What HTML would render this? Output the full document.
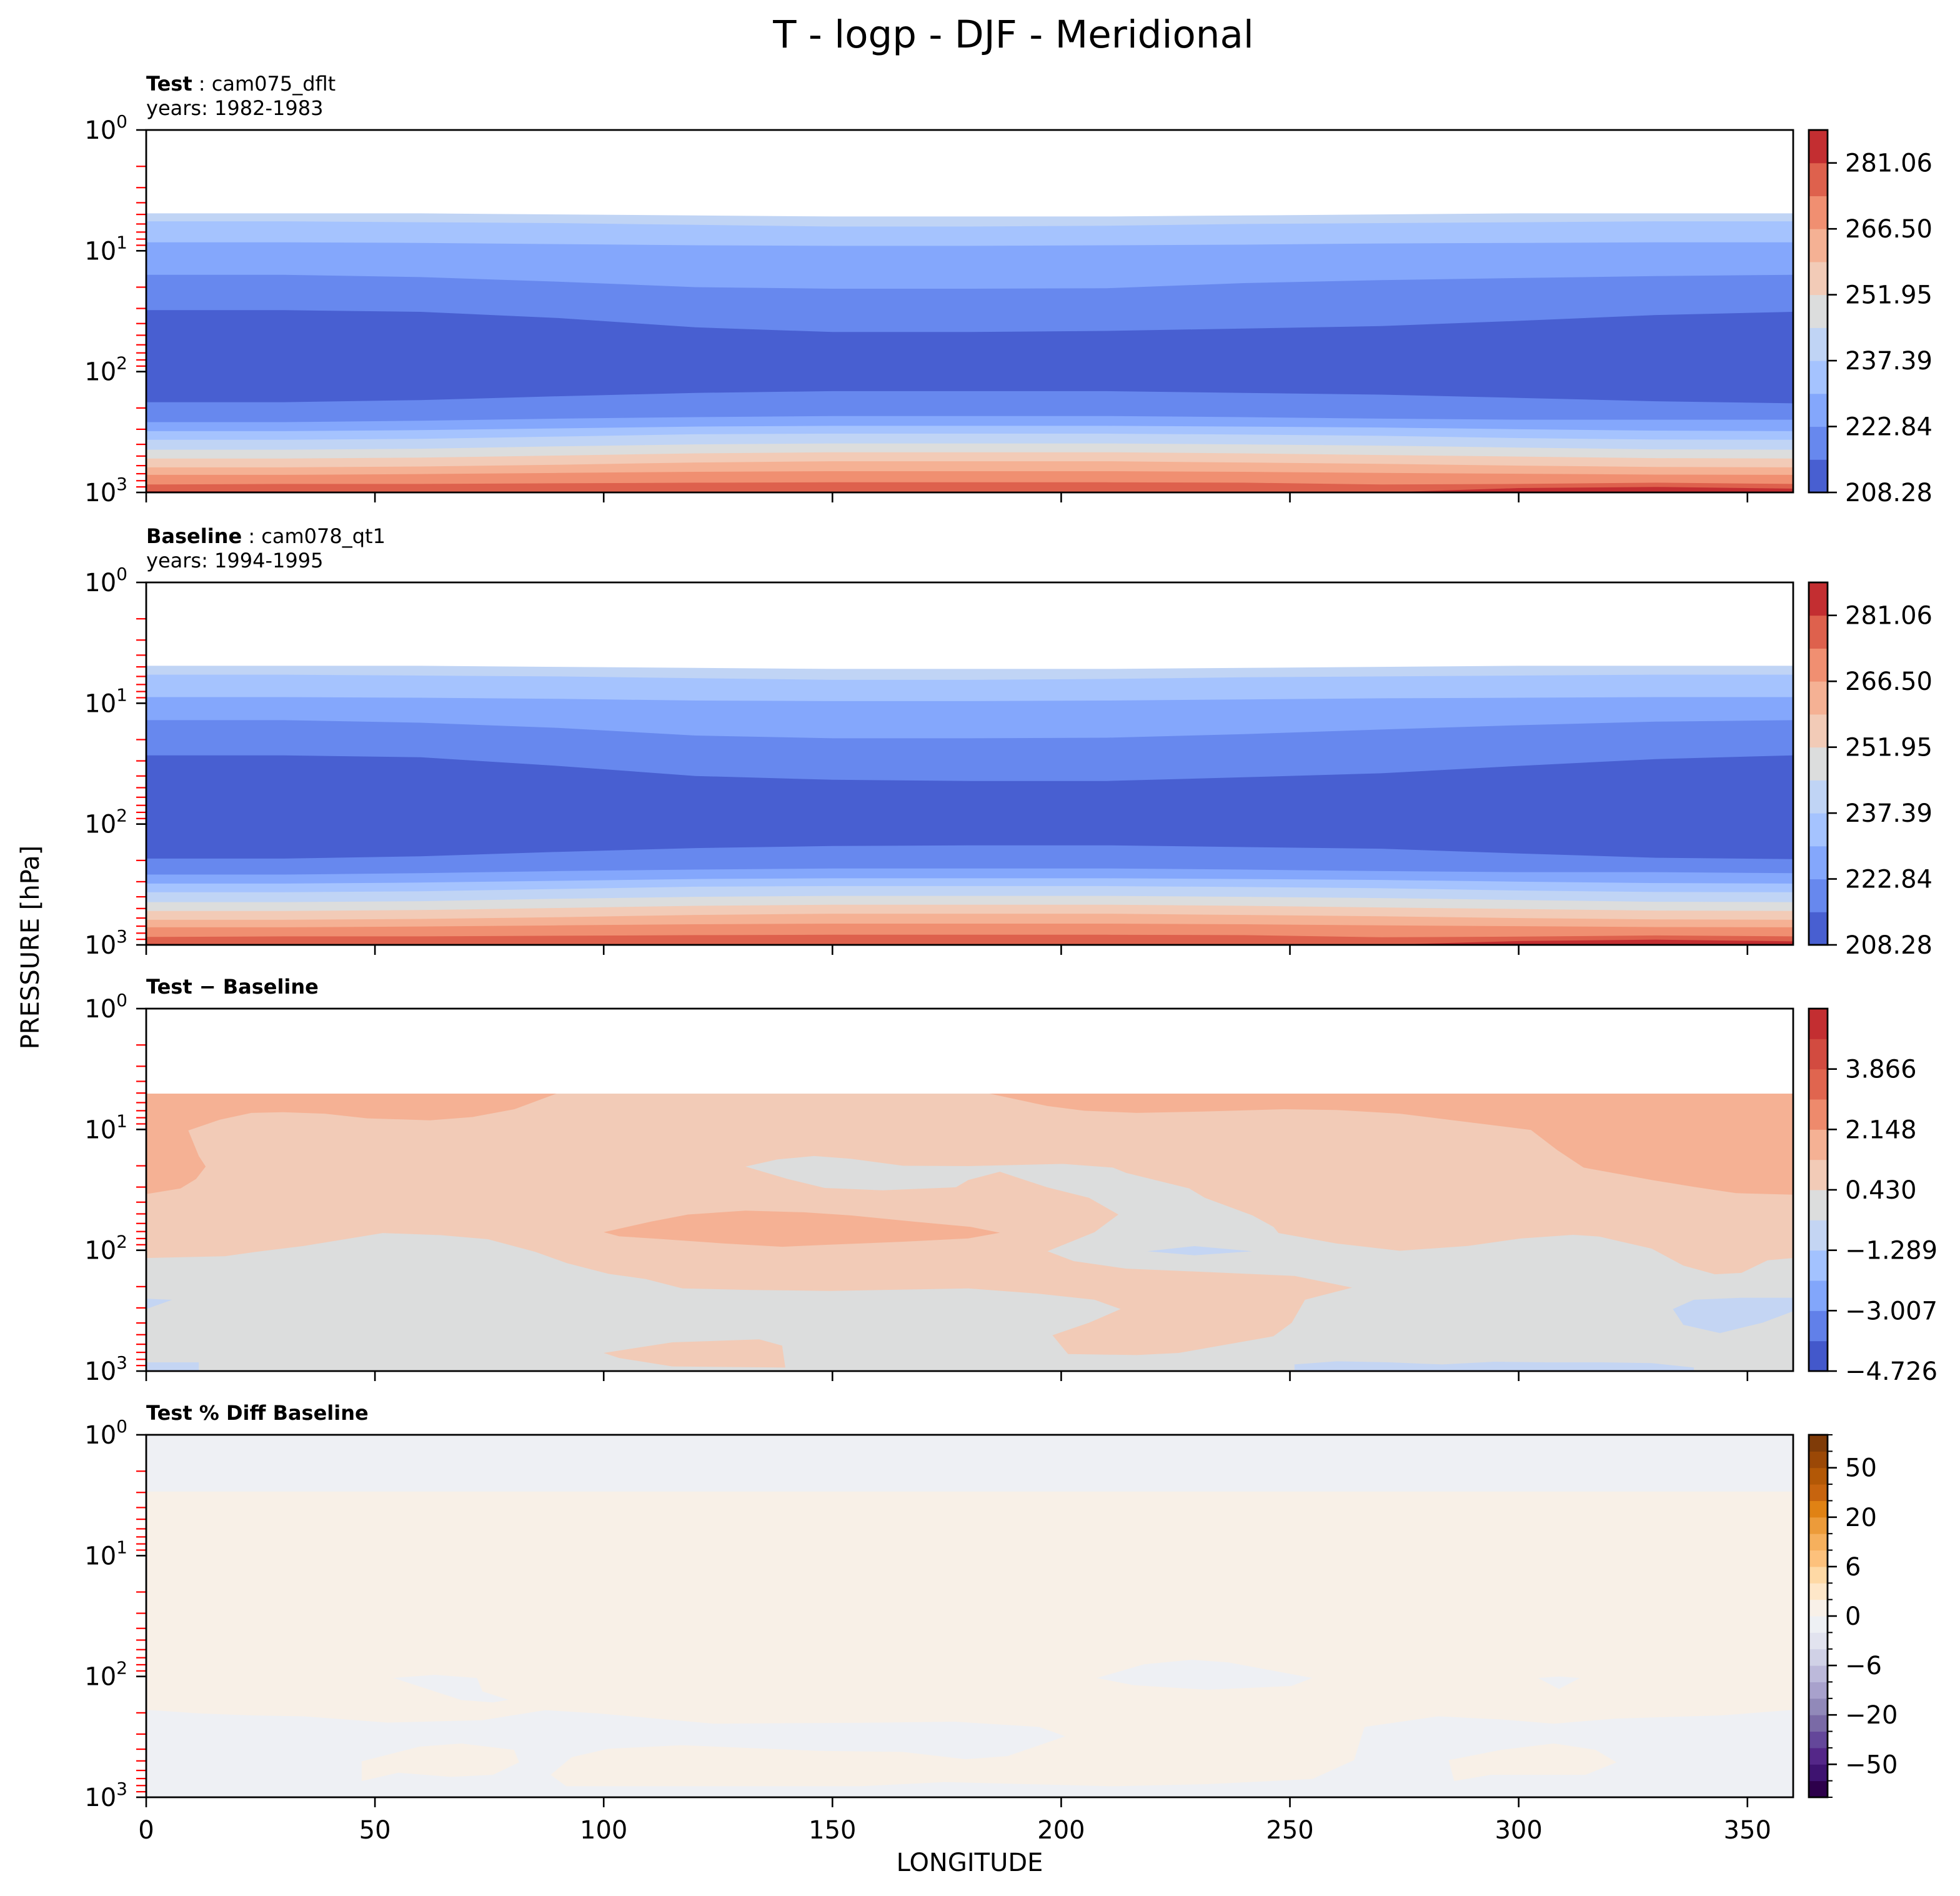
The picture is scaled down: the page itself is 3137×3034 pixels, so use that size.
<!DOCTYPE html>
<html><head><meta charset="utf-8"><title>T - logp - DJF - Meridional</title>
<style>
html,body{margin:0;padding:0;background:#fff;}
svg{display:block;font-family:"DejaVu Sans","Liberation Sans",sans-serif;}
</style></head>
<body>
<svg id="chart" xmlns="http://www.w3.org/2000/svg" width="3137" height="3034" viewBox="0 0 3137 3034">
<rect x="0" y="0" width="3137" height="3034" fill="#fff"/>
<text x="1622" y="76" font-size="61" text-anchor="middle">T - logp - DJF - Meridional</text>
<text x="234" y="145" font-size="32"><tspan font-weight="bold">Test</tspan> : cam075_dflt</text>
<text x="234" y="184" font-size="32">years: 1982-1983</text>
<text x="234" y="869" font-size="32"><tspan font-weight="bold">Baseline</tspan> : cam078_qt1</text>
<text x="234" y="908" font-size="32">years: 1994-1995</text>
<text x="234" y="1590" font-size="32" font-weight="bold">Test − Baseline</text>
<text x="234" y="2272" font-size="32" font-weight="bold">Test % Diff Baseline</text>
<text x="1552" y="2994" font-size="40" text-anchor="middle">LONGITUDE</text>
<text x="0" y="0" font-size="40" text-anchor="middle" transform="translate(62,1516) rotate(-90)">PRESSURE [hPa]</text>
<g id="layer"></g>
</svg>
<script>
// ---------- data ----------
const lons = [0,30,60,90,120,150,180,210,240,270,300,330,360];
const p1Colors = ['#c0d4f5','#a5c3fe','#84a7fc','#6788ee','#485fd1','#6788ee','#84a7fc','#a5c3fe','#c0d4f5','#dcdddd','#f2cbb7','#f5b194','#f08f71','#de614d','#c32e31'];
const p1Bounds = [
 [4.9,4.9,4.9,5.0,5.1,5.2,5.2,5.2,5.1,5.0,4.9,4.9,4.9],
 [5.7,5.7,5.8,5.9,6.1,6.3,6.3,6.2,6.0,5.9,5.8,5.7,5.7],
 [8.5,8.5,8.6,8.8,9.0,9.1,9.1,9.0,8.9,8.7,8.6,8.5,8.5],
 [15.8,15.8,16.5,18,20,20.6,20.6,20.4,18.5,17.5,16.8,16.2,15.8],
 [31,31,32,36,43,47,47,46,44,42,38,34,32],
 [179,179,172,160,150,145,145,145,150,155,165,176,183],
 [262,262,255,245,238,233,233,233,238,245,250,250,250],
 [311,311,305,295,285,281,281,281,285,290,300,308,311],
 [367,367,360,345,330,326,326,326,332,340,355,365,367],
 [443,443,435,415,400,393,393,393,400,410,425,440,443],
 [524,524,515,495,475,465,465,465,475,490,505,520,524],
 [620,620,610,590,565,552,552,552,565,580,600,615,620],
 [716,716,705,690,675,667,667,667,675,690,700,712,716],
 [860,850,850,840,830,825,825,825,830,860,850,830,850],
 [975,980,990,1000,1000,1000,1000,1000,995,1000,920,900,930]
];
const p2Bounds = [
 [4.9,4.9,4.9,5.0,5.1,5.2,5.2,5.2,5.1,5.0,4.9,4.9,4.9],
 [5.8,5.8,5.9,6.0,6.2,6.4,6.4,6.3,6.1,6.0,5.9,5.8,5.8],
 [8.9,8.9,9,9.2,9.5,9.6,9.6,9.5,9.3,9.1,9,8.9,8.9],
 [13.8,13.8,14.5,16,18.5,19.5,19.5,19.3,18,16.5,15.2,14.2,13.8],
 [27,27,28,33,40,43,44,44,41,38,33,29,27],
 [193,193,185,170,158,152,150,150,155,160,175,190,195],
 [262,262,255,245,238,233,233,233,238,245,250,250,255],
 [311,311,305,295,285,281,281,281,285,290,300,308,311],
 [367,367,360,345,330,326,326,326,332,340,355,365,367],
 [443,443,435,415,400,393,393,393,400,410,425,440,443],
 [524,524,515,495,475,465,465,465,475,490,505,520,524],
 [620,620,610,590,565,552,552,552,565,580,600,615,620],
 [716,716,705,690,675,667,667,667,675,690,700,712,716],
 [860,850,850,840,830,825,825,825,830,865,855,835,850],
 [980,985,990,1000,1000,1000,1000,1000,995,1000,930,905,935]
];
const p3Top = 5.05;
const p3Salmon = [[0,5.05],[360,5.05],[360,116],[354.4,121],[348.7,154],[342.9,158],[336,134],[329.1,97],[317.6,77],[311.9,74.5],[300.4,80],[288.9,92],[274,101],[260.2,88],[247.5,72],[246.4,64],[241.8,51.5],[231.4,36.8],[228,30.8],[214.2,22.9],[211.3,20.7],[200.4,19.3],[179.7,20.1],[165.5,20],[154,17.5],[146,16.6],[138,17.7],[131,20.3],[140.2,25.7],[148.3,30.5],[160.9,31.9],[177,30.1],[179.7,26.2],[186.6,22.4],[196.9,30.1],[206.1,36.8],[212.5,50.6],[207.3,70.8],[197,102],[202.7,123],[214.2,142],[225.7,148],[251,163],[263.6,204],[253.3,257],[250.4,398],[246.4,515],[225.7,708],[216.5,737],[201.5,723],[198.1,505],[206.1,398],[213,307],[207.3,257],[194.6,228],[179.7,207],[149.4,217],[132.2,213],[117.2,207],[109.2,173],[101.1,157],[92,128],[85,103],[74.7,81],[64.4,75],[51.7,72],[34.5,92],[24.1,103],[17.2,112],[0,116]];
const p3OrangeLeft = [[0,5.05],[89.7,5.05],[80.5,6.8],[71.3,7.9],[62,8.4],[48.3,8.1],[39,7.4],[29.9,7.2],[23,7.3],[16.1,8.3],[9.2,10.2],[11.5,16.6],[13,20.3],[10.9,25.7],[7.5,30.8],[0,34.3]];
const p3OrangeRight = [[184.3,5.05],[360,5.05],[360,34.7],[347.5,33.7],[338.3,29.9],[329.1,26.2],[314.2,20.7],[308.4,14.8],[302.7,10.1],[290,8.8],[274,7.4],[260.2,6.9],[248.7,6.8],[231.4,7.1],[216.5,7.3],[205,7.0],[197,6.4]];
const p3OrangeMid = [[100,70.8],[110.3,58],[118.4,50.6],[131,47],[143.7,48.5],[154,51.5],[167.8,58],[180.2,64],[186.6,71.6],[179.7,79.8],[165.5,85],[149.4,90],[139,93.6],[126.4,88],[112.6,80.7],[103.4,76.7]];
const p3SalmonLow = [[100,708],[115,578],[134,547],[139,615],[139.7,935],[115,916],[103.4,780]];
const p3BlueLens = [[218.8,102],[229.1,92.4],[241.8,102],[229.1,110]];
const p3BlueRight = [[333.7,307],[338.3,257],[348.7,247],[360,247],[360,320],[353.3,398],[344,485],[336,414]];
const p3BlueBottom = [[251,881],[260.2,830],[271.7,846],[283.2,881],[294.6,837],[306.1,846],[317.6,846],[329.1,860],[338.3,935],[338.3,1000],[251,1000]];
const p3BlueLeft = [[0,252],[5.7,257],[0,307]];
const p3BlueLeftBottom = [[0,846],[11.5,846],[11.5,1000],[0,1000]];
const p4Top = 2.95;
const p4Boundary = [[0,189],[11.5,202],[23,210],[34.4,214],[52.8,241],[73.5,230],[87.2,190],[98.7,202],[124,246],[160.7,241],[176.8,237],[195.2,262],[200.9,313],[188.3,456],[179.1,484],[165.3,421],[147,413],[117.1,371],[101,397],[93,466],[88.4,652],[91.8,811],[156,811],[174.5,749],[211.2,811],[231.9,779],[254.9,706],[264,493],[266.3,262],[282.4,214],[296.2,227],[307.7,246],[321.4,223],[344.4,210],[360,189]];
const p4GrayA = [[54,103],[63.1,97],[72.3,103],[73.5,133],[79.2,156],[75.8,164],[68.9,157]];
const p4GrayB = [[207.8,103],[218.1,79.4],[228.5,72.8],[236.5,76.4],[254.9,103],[250.3,120],[231.9,129],[215.8,118]];
const p4GrayC = [[304.2,103],[308.8,100],[313.4,103],[308.8,127]];
const p4CreamA = [[47.1,504],[59.7,381],[68.9,359],[80.4,405],[81.5,514],[75.8,652],[66.6,678],[55.1,627],[47.1,734]];
const p4CreamB = [[284.7,493],[296.2,405],[307.7,359],[316.8,405],[321.4,514],[314.6,652],[293.9,652],[285.9,734]];
const cb1Colors = ['#485fd1','#6788ee','#84a7fc','#a5c3fe','#c0d4f5','#dcdddd','#f2cbb7','#f5b194','#f08f71','#de614d','#c32e31'];
const cb1Ticks = [208.28,222.84,237.39,251.95,266.50,281.06];
const cb1Range = [208.28,288.34];
const cb3Colors = ['#4358cb','#6180e9','#82a6fb','#a3c2fe','#c4d5f3','#dcdddd','#f2cbb7','#f5b194','#ee8a6c','#e0654f','#d24b40','#c32e31'];
const cb3Ticks = [-4.726,-3.007,-1.289,0.430,2.148,3.866];
const cb3Range = [-4.726,5.585];
const cb4Colors = ['#2d004b','#3e1370','#542788','#64479a','#7a6aa6','#9189b9','#a8a1cc','#bcb9da','#d0d1e6','#e2e3ef','#eef0f4','#f8f0e8','#fee7c9','#fed9a5','#fdc17c','#f6b05d','#ec9b3a','#e08214','#c7640e','#b35806','#9b4806','#7f3b08'];
const cb4Levels = [-100,-80,-50,-40,-30,-20,-15,-10,-6,-4,-2,0,2,4,6,10,15,20,30,40,50,80,100];
const cb4Ticks = [-50,-20,-6,0,6,20,50];
const xTicks = [0,50,100,150,200,250,300,350];
const yMajor = [0,1,2,3];
const yMinorMult = [2,3,4,5,6,7,8,9];

// ---------- geometry ----------
const NS='http://www.w3.org/2000/svg';
const X0=234, X1=2870, H=580;
const tops=[208,932,1614,2296];
const CBX=2895, CBW=30;
const layer=document.getElementById('layer');
function mk(tag,attrs,parent){const e=document.createElementNS(NS,tag);for(const k in attrs)e.setAttribute(k,attrs[k]);(parent||layer).appendChild(e);return e;}
function xS(lon){return X0+lon/360*(X1-X0);}
function yS(k,p){return tops[k]+Math.log10(p)/3*H;}
function poly(k,pts){return pts.map((d,i)=>(i?'L':'M')+xS(d[0]).toFixed(1)+','+yS(k,d[1]).toFixed(1)).join('')+'Z';}

const defs=mk('defs',{});
for(let k=0;k<4;k++){const c=mk('clipPath',{id:'clip'+k},defs);mk('rect',{x:X0,y:tops[k],width:X1-X0,height:H},c);}

function drawBands(k,bounds,colors){
  const g=mk('g',{'clip-path':'url(#clip'+k+')'});
  
  
  bounds.forEach((b,i)=>{
    const pts=lons.map((l,j)=>[l,b[j]]).concat([[360,1000],[0,1000]]);
    const el=mk('path',{d:poly(k,pts),fill:colors[i]},g);
    
    
  });
}
drawBands(0,p1Bounds,p1Colors);
drawBands(1,p2Bounds,p1Colors);

// panel 3
{
  const g=mk('g',{'clip-path':'url(#clip2)'});
  
  
  const parts=[[[[0,p3Top],[360,p3Top],[360,1000],[0,1000]],'#dcdddd'],[p3Salmon,'#f2cbb7'],[p3OrangeLeft,'#f5b194'],[p3OrangeRight,'#f5b194'],[p3OrangeMid,'#f5b194'],[p3SalmonLow,'#f2cbb7'],[p3BlueLens,'#c4d5f3'],[p3BlueRight,'#c4d5f3'],[p3BlueBottom,'#c4d5f3'],[p3BlueLeft,'#c4d5f3'],[p3BlueLeftBottom,'#c4d5f3']];
  parts.forEach(pp=>{
    const el=mk('path',{d:poly(2,pp[0]),fill:pp[1]},g);
    
    
  });
}
// panel 4
{
  const g=mk('g',{'clip-path':'url(#clip3)'});
  
  
  const cream=[[0,p4Top],[360,p4Top]].concat(p4Boundary.slice().reverse());
  const parts=[[[[0,1],[360,1],[360,1000],[0,1000]],'#eef0f4'],[cream,'#f8f0e7'],[p4GrayA,'#eef0f4'],[p4GrayB,'#eef0f4'],[p4GrayC,'#eef0f4'],[p4CreamA,'#f8f0e7'],[p4CreamB,'#f8f0e7']];
  parts.forEach(pp=>{
    const el=mk('path',{d:poly(3,pp[0]),fill:pp[1]},g);
    
    
  });
}

// axes
for(let k=0;k<4;k++){
  const ax=mk('g',{});
  
  
  yMajor.forEach(e=>{
    for(const m of yMinorMult){
      if(e>=3) break;
      const y=yS(k,m*Math.pow(10,e));
      const t=mk('line',{x1:X0-16,x2:X0,y1:y,y2:y,stroke:'#ff0000','stroke-width':2.2},ax);
      
      
    }
    const y=yS(k,Math.pow(10,e));
    const t=mk('line',{x1:X0-16,x2:X0,y1:y,y2:y,stroke:'#000','stroke-width':2.6},ax);
    
    
    const lab=mk('text',{x:X0-30,y:y+14,'font-size':40,'text-anchor':'end'},ax);
    
    
    lab.appendChild(document.createTextNode('10'));
    const sup=mk('tspan',{'font-size':28,dy:-18},lab);
    sup.textContent=String(e);
  });
  xTicks.forEach(v=>{
    const x=xS(v);
    const t=mk('line',{x1:x,x2:x,y1:tops[k]+H,y2:tops[k]+H+16,stroke:'#000','stroke-width':2.6},ax);
    
    
    if(k===3){
      const lab=mk('text',{x:x,y:2942,'font-size':40,'text-anchor':'middle'},ax);
      
      
      lab.textContent=String(v);
    }
  });
  const fr=mk('rect',{x:X0,y:tops[k],width:X1-X0,height:H,fill:'none',stroke:'#000','stroke-width':2.8},ax);
  
  
}

// colorbars
function cbLinear(k,colors,ticks,range,labels){
  const g=mk('g',{});
  
  
  const n=colors.length, bh=H/n, bot=tops[k]+H;
  colors.forEach((c,i)=>{
    const r=mk('rect',{x:CBX,y:bot-(i+1)*bh,width:CBW,height:bh+0.5,fill:c},g);
    
    
  });
  ticks.forEach((v,i)=>{
    const y=bot-(v-range[0])/(range[1]-range[0])*H;
    const t=mk('line',{x1:CBX+CBW,x2:CBX+CBW+15,y1:y,y2:y,stroke:'#000','stroke-width':2.6},g);
    
    
    const l=mk('text',{x:CBX+CBW+28,y:y+14,'font-size':40},g);
    
    
    l.textContent=labels[i];
  });
  const fr=mk('rect',{x:CBX,y:tops[k],width:CBW,height:H,fill:'none',stroke:'#000','stroke-width':2.8},g);
  
  
}
const fmt2=v=>v.toFixed(2), fmt3=v=>(v<0?'−':'')+Math.abs(v).toFixed(3);
cbLinear(0,cb1Colors,cb1Ticks,cb1Range,cb1Ticks.map(fmt2));
cbLinear(1,cb1Colors,cb1Ticks,cb1Range,cb1Ticks.map(fmt2));
cbLinear(2,cb3Colors,cb3Ticks,cb3Range,cb3Ticks.map(fmt3));
{
  const k=3, g=mk('g',{});
  
  
  const n=cb4Colors.length, bh=H/n, bot=tops[k]+H;
  const yIdx=i=>bot-i*bh;
  cb4Colors.forEach((c,i)=>{
    const r=mk('rect',{x:CBX,y:yIdx(i+1),width:CBW,height:bh+0.5,fill:c},g);
    
    
  });
  cb4Levels.forEach((v,i)=>{
    const y=yIdx(i);
    const major=cb4Ticks.indexOf(v)>=0;
    const t=mk('line',{x1:CBX+CBW,x2:CBX+CBW+(major?15:8),y1:y,y2:y,stroke:'#000','stroke-width':major?2.6:2},g);
    
    
    if(major){
      const l=mk('text',{x:CBX+CBW+28,y:y+14,'font-size':40},g);
      
      
      l.textContent=(v<0?'−':'')+Math.abs(v);
    }
  });
  const fr=mk('rect',{x:CBX,y:tops[k],width:CBW,height:H,fill:'none',stroke:'#000','stroke-width':2.8},g);
  
  
}
</script>
</body></html>
